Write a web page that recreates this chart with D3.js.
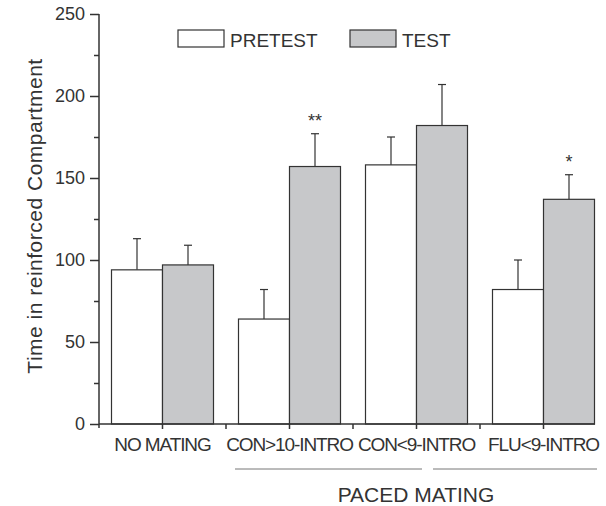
<!DOCTYPE html>
<html>
<head>
<meta charset="utf-8">
<script src="https://cdn.jsdelivr.net/npm/d3@7"></script>
<style>
  body { margin: 0; background: #fff; }
  svg { display: block; font-family: "Liberation Sans", Arial, sans-serif; }
</style>
</head>
<body>
<svg width="606" height="506"></svg>
<script>
// data
let groups = ["NO MATING", "CON>10-INTRO", "CON<9-INTRO", "FLU<9-INTRO"];
let series = ["PRETEST", "TEST"];
let pretest = [94, 64, 158, 82];
let pretestErr = [19, 18, 17, 18];
let test = [97, 157, 182, 137];
let testErr = [12, 20, 25, 15];
let marks = ["", "**", "", "*"];
let yTicks = [0, 50, 100, 150, 200, 250];
let yMinor = [25, 75, 125, 175, 225];

let svg = d3.select("svg");
let ink = "#333";
let fills = { PRETEST: "#ffffff", TEST: "#c7c8ca" };

let y = d3.scaleLinear().domain([0, 250]).range([424, 14]);
let x0 = d3.scaleBand().domain(groups).range([99, 607]);
let x1 = d3.scaleBand().domain(series).range([0, 102]);
let barOff = x0.bandwidth() / 2 - 51;

let rows = [];
groups.forEach(function (g, i) {
    rows.push({ g: g, s: "PRETEST", v: pretest[i], e: pretestErr[i], m: "" });
    rows.push({ g: g, s: "TEST", v: test[i], e: testErr[i], m: marks[i] });
});

// error bars (upper half only)
let err = svg.append("g").attr("stroke", ink).attr("stroke-width", 1.2);
rows.forEach(function (d) {
    let cx = x0(d.g) + barOff + x1(d.s) + x1.bandwidth() / 2;
    err.append("line")
        .attr("x1", cx).attr("x2", cx)
        .attr("y1", y(d.v)).attr("y2", y(d.v + d.e));
    err.append("line")
        .attr("x1", cx - 4).attr("x2", cx + 4)
        .attr("y1", y(d.v + d.e)).attr("y2", y(d.v + d.e));
});

// bars
svg.append("g").selectAll("rect")
    .data(rows)
    .join("rect")
    .attr("x", d => x0(d.g) + barOff + x1(d.s))
    .attr("y", d => y(d.v))
    .attr("width", x1.bandwidth())
    .attr("height", d => y(0) - y(d.v))
    .attr("fill", d => fills[d.s])
    .attr("stroke", ink)
    .attr("stroke-width", 1.2);

// significance stars
svg.append("g").selectAll("text")
    .data(rows.filter(d => d.m))
    .join("text")
    .attr("x", d => x0(d.g) + barOff + x1(d.s) + x1.bandwidth() / 2)
    .attr("y", d => y(d.v + d.e) - 7)
    .attr("text-anchor", "middle")
    .attr("font-size", "18px")
    .attr("fill", ink)
    .text(d => d.m);

// y axis
let yAxis = svg.append("g")
    .attr("transform", "translate(99,0)")
    .call(d3.axisLeft(y).tickValues(yTicks).tickSize(9).tickPadding(5))
    .call(g => g.select(".domain").remove());
yAxis.selectAll(".tick line").attr("stroke", ink).attr("stroke-width", 1.5);
yAxis.selectAll(".tick text").attr("font-size", "18px").attr("fill", ink)
    .attr("font-family", "Liberation Sans, Arial, sans-serif");
svg.append("g").attr("transform", "translate(99,0)")
    .call(d3.axisLeft(y).tickValues(yMinor).tickSize(5).tickFormat(""))
    .call(g => g.select(".domain").remove())
    .selectAll("line").attr("stroke", ink).attr("stroke-width", 1.5);
svg.append("line")
    .attr("x1", 99).attr("x2", 99)
    .attr("y1", y(250)).attr("y2", y(0) + 4)
    .attr("stroke", ink).attr("stroke-width", 1.5);

// x axis
svg.append("line")
    .attr("x1", 99).attr("x2", 595)
    .attr("y1", y(0)).attr("y2", y(0))
    .attr("stroke", ink).attr("stroke-width", 1.5);
let xTickPos = [];
groups.forEach(function (g, i) {
    if (i > 0) xTickPos.push(x0(g));
    xTickPos.push(x0(g) + x0.bandwidth() / 2);
});
svg.append("g").selectAll("line")
    .data(xTickPos)
    .join("line")
    .attr("x1", d => d).attr("x2", d => d)
    .attr("y1", y(0)).attr("y2", y(0) + 5)
    .attr("stroke", ink).attr("stroke-width", 1.5);
svg.append("g").selectAll("text")
    .data(groups)
    .join("text")
    .attr("x", d => x0(d) + x0.bandwidth() / 2)
    .attr("y", 451)
    .attr("text-anchor", "middle")
    .attr("font-size", "19px")
    .attr("letter-spacing", "-1.1px")
    .attr("fill", ink)
    .text(d => d);

// PACED MATING bracket
svg.append("line").attr("x1", 235).attr("x2", 422).attr("y1", 469).attr("y2", 469)
    .attr("stroke", "#777").attr("stroke-width", 1);
svg.append("line").attr("x1", 433).attr("x2", 597).attr("y1", 469).attr("y2", 469)
    .attr("stroke", "#777").attr("stroke-width", 1);
svg.append("text")
    .attr("x", 416).attr("y", 502)
    .attr("text-anchor", "middle")
    .attr("font-size", "21px")
    .attr("fill", ink)
    .text("PACED MATING");

// y label
svg.append("text")
    .attr("transform", "translate(42,216) rotate(-90)")
    .attr("text-anchor", "middle")
    .attr("font-size", "21px")
    .attr("letter-spacing", "0.5px")
    .attr("fill", ink)
    .text("Time in reinforced Compartment");

// legend
let legend = svg.append("g");
let legX = [178, 350];
series.forEach(function (s, i) {
    legend.append("rect")
        .attr("x", legX[i]).attr("y", 30)
        .attr("width", 46).attr("height", 17)
        .attr("fill", fills[s])
        .attr("stroke", ink).attr("stroke-width", 1.2);
    legend.append("text")
        .attr("x", legX[i] + 52).attr("y", 47)
        .attr("font-size", "19px")
        .attr("fill", ink)
        .text(s);
});
</script>
</body>
</html>
